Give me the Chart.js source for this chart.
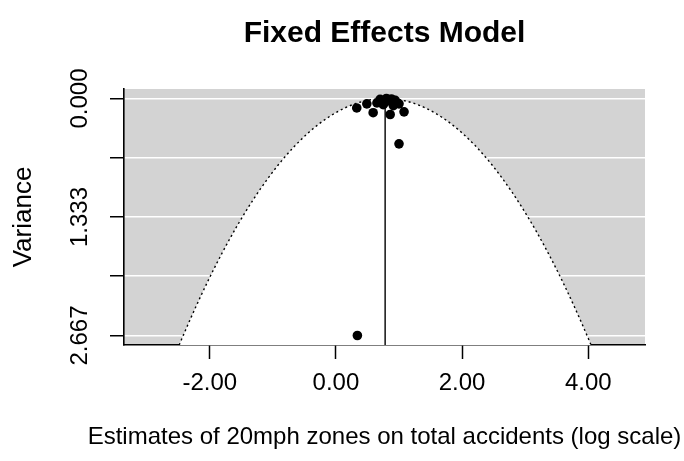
<!DOCTYPE html>
<html>
<head>
<meta charset="utf-8">
<script src="https://cdn.jsdelivr.net/npm/chart.js@4"></script>
<style>
  html, body { margin: 0; padding: 0; background: #ffffff; }
  #wrap { width: 684px; height: 461px; }
</style>
</head>
<body>
<div id="wrap"><canvas id="c" width="684" height="461"></canvas></div>
<script>
// ---- data ----
const studyEstimates = [0.33, 0.49, 0.59, 0.65, 0.70, 0.75, 0.80, 0.83, 0.88, 0.94, 1.00, 0.86, 1.08, 1.00, 0.34, 0.78, 0.91];
const studyVariances = [0.106, 0.06, 0.16, 0.05, 0.01, 0.07, 0.00, 0.02, 0.005, 0.02, 0.06, 0.18, 0.15, 0.51, 2.667, 0.04, 0.08];
const pooledEstimate = 0.78;
const zCrit = 1.96;
const xTickValues = [-2, 0, 2, 4];
const xTickLabels = ['-2.00', '0.00', '2.00', '4.00'];
const yTickValues = [0, 0.6667, 1.3333, 2.0, 2.6667];
const yTickLabels = ['0.000', '', '1.333', '', '2.667'];
const xRange = [-3.36, 4.90];
const yRange = [-0.107, 2.774];
const xTitle = 'Estimates of 20mph zones on total accidents (log scale)';

// funnel boundaries: pooled estimate +/- z * sqrt(variance)
const funnelVar = [];
for (let i = 0; i <= 200; i++) funnelVar.push(yRange[1] * i / 200);
const funnelPts = [];
for (let i = funnelVar.length - 1; i >= 0; i--) funnelPts.push({x: pooledEstimate - zCrit * Math.sqrt(funnelVar[i]), y: funnelVar[i]});
for (let i = 1; i < funnelVar.length; i++) funnelPts.push({x: pooledEstimate + zCrit * Math.sqrt(funnelVar[i]), y: funnelVar[i]});

const points = studyEstimates.map((e, i) => ({x: e, y: studyVariances[i]}));
const centerLine = [{x: pooledEstimate, y: 0}, {x: pooledEstimate, y: yRange[1]}];

const FONT = 'Liberation Sans, Arial, sans-serif';

const bgPlugin = {
  id: 'bg',
  beforeDraw(chart) {
    const {ctx, chartArea: a} = chart;
    ctx.save();
    ctx.fillStyle = '#d3d3d3';
    ctx.fillRect(a.left, a.top, a.right - a.left, a.bottom - a.top);
    ctx.restore();
  },
  afterDraw(chart) {
    // x-axis title, drawn at natural width (it is wider than the plot region)
    const {ctx, chartArea: a} = chart;
    const sx = chart.scales.x;
    ctx.save();
    ctx.fillStyle = '#000000';
    ctx.font = '24px ' + FONT;
    ctx.textAlign = 'center';
    ctx.textBaseline = 'middle';
    ctx.fillText(xTitle, (a.left + a.right) / 2, sx.bottom - 24);
    ctx.restore();
  }
};

new Chart(document.getElementById('c'), {
  type: 'scatter',
  data: {
    datasets: [
      {
        data: points,
        backgroundColor: '#000000',
        borderWidth: 0,
        pointRadius: 4.8,
        showLine: false
      },
      {
        data: centerLine,
        showLine: true,
        borderColor: '#000000',
        borderWidth: 1.4,
        pointRadius: 0,
        fill: false
      },
      {
        data: funnelPts,
        showLine: true,
        borderColor: '#000000',
        borderWidth: 1.4,
        borderDash: [2, 3],
        pointRadius: 0,
        tension: 0,
        fill: 'start',
        backgroundColor: '#ffffff'
      }
    ]
  },
  options: {
    responsive: false,
    animation: false,
    layout: { padding: { left: 0, right: 39, top: 0, bottom: 0 } },
    plugins: {
      legend: { display: false },
      tooltip: { enabled: false },
      title: {
        display: true,
        fullSize: false,
        text: 'Fixed Effects Model',
        color: '#000000',
        font: { family: FONT, size: 30, weight: 'bold' },
        padding: { top: 16, bottom: 37 }
      }
    },
    scales: {
      x: {
        type: 'linear',
        z: 1,
        min: xRange[0],
        max: xRange[1],
        afterBuildTicks: s => { s.ticks = xTickValues.map(v => ({value: v})); },
        afterFit: s => { s.height = 116; },
        grid: { display: true, drawOnChartArea: false, drawTicks: true, tickLength: 14, tickColor: '#000000', tickWidth: 1.5 },
        border: { display: true, color: '#000000', width: 1.6 },
        ticks: {
          autoSkip: false,
          maxRotation: 0,
          minRotation: 0,
          padding: 10,
          color: '#000000',
          font: { family: FONT, size: 24 },
          callback: (v, i) => xTickLabels[i]
        },
        title: { display: false }
      },
      y: {
        type: 'linear',
        reverse: true,
        min: yRange[0],
        max: yRange[1],
        afterBuildTicks: s => { s.ticks = yTickValues.map(v => ({value: v})); },
        afterFit: s => { s.width = 124; },
        grid: { display: true, drawOnChartArea: true, color: '#ffffff', lineWidth: 1.5, drawTicks: true, tickLength: 14, tickColor: '#000000', tickWidth: 1.5 },
        border: { display: true, color: '#000000', width: 1.6 },
        ticks: {
          autoSkip: false,
          minRotation: 90,
          maxRotation: 90,
          crossAlign: 'center',
          padding: 0,
          color: '#000000',
          font: { family: FONT, size: 24 },
          callback: (v, i) => yTickLabels[i]
        },
        title: {
          display: true,
          text: 'Variance',
          color: '#000000',
          font: { family: FONT, size: 26 },
          padding: { top: 8, bottom: 0 }
        }
      }
    }
  },
  plugins: [bgPlugin]
});
</script>
</body>
</html>
